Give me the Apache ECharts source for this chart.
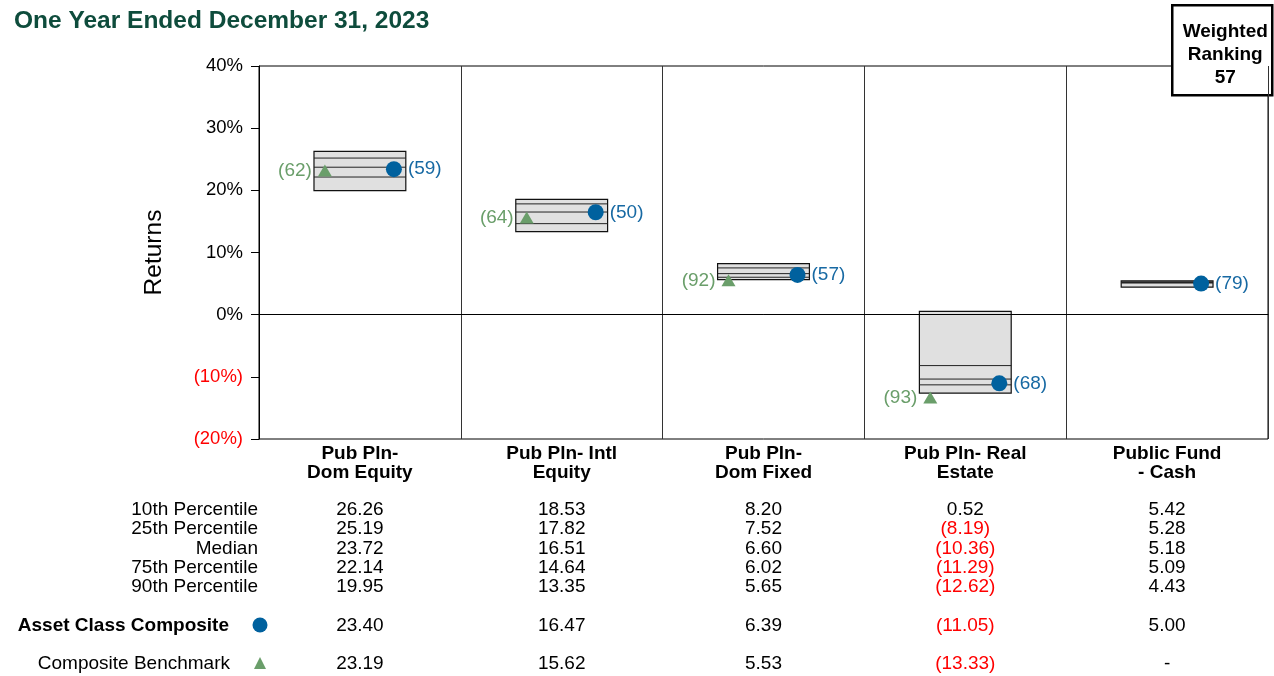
<!DOCTYPE html>
<html>
<head>
<meta charset="utf-8">
<script src="https://cdn.jsdelivr.net/npm/echarts@6/dist/echarts.min.js"></script>
<style>
  html, body { margin: 0; padding: 0; background: #fff; }
  #chart { width: 1274px; height: 676px; }
</style>
</head>
<body>
<div id="chart"></div>
<script>
const categories = ['Pub Pln-\nDom Equity', 'Pub Pln- Intl\nEquity', 'Pub Pln-\nDom Fixed', 'Pub Pln- Real\nEstate', 'Public Fund\n- Cash']
const p10 = [26.26, 18.53, 8.20, 0.52, 5.42]
const p25 = [25.19, 17.82, 7.52, -8.19, 5.28]
const median = [23.72, 16.51, 6.60, -10.36, 5.18]
const p75 = [22.14, 14.64, 6.02, -11.29, 5.09]
const p90 = [19.95, 13.35, 5.65, -12.62, 4.43]
const composite = [23.40, 16.47, 6.39, -11.05, 5.00]
const compositeRank = [59, 50, 57, 68, 79]
const benchmark = [23.19, 15.62, 5.53, -13.33, null]
const benchmarkRank = [62, 64, 92, 93, null]
const rowNames = ['10th Percentile', '25th Percentile', 'Median', '75th Percentile', '90th Percentile']

const FONT = '"Liberation Sans", Arial, sans-serif'
const FS = 19
const BLUE = '#00619e'
const BLUE_TXT = '#1769a3'
const GREEN = '#6a9e6a'
const RED = '#ff0000'

const chart = echarts.init(document.getElementById('chart'))

function fmt(v) {
  if (v === null || v === undefined) return '-'
  if (v < 0) return '{neg|(' + (-v).toFixed(2) + ')}'
  return v.toFixed(2)
}

// table rows drawn as extra x axes under the grid
const tableRows = [p10, p25, median, p75, p90, composite, benchmark]
const rowCenters = [510, 529, 549, 568, 587, 626, 664]
const rowAxes = tableRows.map((row, k) => ({
  type: 'category',
  gridIndex: 0,
  position: 'bottom',
  offset: rowCenters[k] - 439 - 9.5,
  data: categories.map((c, i) => String(i)),
  axisLine: { show: false },
  axisTick: { show: false },
  splitLine: { show: false },
  axisLabel: {
    interval: 0,
    margin: 0,
    fontFamily: FONT,
    fontSize: FS,
    lineHeight: 19,
    color: '#000',
    formatter: (value, idx) => fmt(row[idx]),
    rich: { neg: { color: RED, fontFamily: FONT, fontSize: FS, lineHeight: 19 } }
  }
}))

const boxData = categories.map((c, i) => [i, p10[i], p25[i], median[i], p75[i], p90[i]])
const compData = composite.map((v, i) => [i, v, compositeRank[i]])
const benchData = []
benchmark.forEach((v, i) => { if (v !== null) benchData.push([i, v, benchmarkRank[i]]) })

function renderBox(params, api) {
  const i = api.value(0)
  const w = api.size([1, 0])[0] * 0.455
  const cx = api.coord([i, 0])[0]
  const x0 = cx - w / 2
  const yTop = api.coord([i, api.value(1)])[1]
  const yBot = api.coord([i, api.value(5)])[1]
  const line = (v) => {
    const y = api.coord([i, v])[1]
    return { type: 'line', shape: { x1: x0, y1: y, x2: x0 + w, y2: y }, style: { stroke: '#222', lineWidth: 1 } }
  }
  return {
    type: 'group',
    children: [
      { type: 'rect', shape: { x: x0, y: yTop, width: w, height: yBot - yTop }, style: { fill: '#e0e0e0', stroke: '#111', lineWidth: 1.2 } },
      line(api.value(2)),
      line(api.value(3)),
      line(api.value(4))
    ]
  }
}

const option = {
  animation: false,
  backgroundColor: '#fff',
  title: {
    text: 'One Year Ended December 31, 2023',
    left: 9,
    top: 4,
    textStyle: { fontFamily: FONT, fontSize: 24.5, fontWeight: 'bold', color: '#0e4c3c' }
  },
  grid: {
    left: 259,
    right: 6,
    top: 66,
    bottom: 237,
    show: true,
    borderColor: '#000',
    borderWidth: 1,
    backgroundColor: 'transparent'
  },
  xAxis: [
    {
      type: 'category',
      data: categories,
      boundaryGap: true,
      axisLine: { show: true, lineStyle: { color: '#000' } },
      axisTick: { show: false },
      splitLine: { show: true, interval: 0, lineStyle: { color: '#333', width: 1 } },
      axisLabel: {
        interval: 0,
        margin: 5.5,
        fontFamily: FONT,
        fontSize: FS,
        fontWeight: 'bold',
        lineHeight: 19,
        color: '#000'
      }
    }
  ].concat(rowAxes),
  yAxis: {
    type: 'value',
    min: -20,
    max: 40,
    interval: 10,
    name: 'Returns',
    nameLocation: 'middle',
    nameGap: 92,
    nameTextStyle: { fontFamily: FONT, fontSize: 24.5, color: '#000' },
    axisLine: { show: true, lineStyle: { color: '#000' } },
    axisTick: { show: true, length: 8, lineStyle: { color: '#000' } },
    splitLine: { show: false },
    axisLabel: {
      margin: 16,
      fontFamily: FONT,
      fontSize: 18.5,
      color: '#000',
      formatter: (v) => v < 0 ? '{neg|(' + (-v) + '%)}' : v + '%',
      rich: { neg: { color: RED, fontFamily: FONT, fontSize: 18.5 } }
    }
  },
  series: [
    {
      type: 'custom',
      name: 'Range',
      renderItem: renderBox,
      encode: { x: 0, y: [1, 2, 3, 4, 5] },
      data: boxData,
      z: 2
    },
    {
      type: 'scatter',
      name: 'Composite Benchmark',
      data: benchData,
      symbol: 'triangle',
      symbolSize: [14, 12],
      symbolOffset: [-35, 0],
      itemStyle: { color: GREEN, opacity: 1 },
      label: {
        show: true,
        position: 'left',
        distance: 6,
        formatter: (p) => '(' + p.value[2] + ')',
        fontFamily: FONT,
        fontSize: FS,
        color: GREEN
      },
      z: 4
    },
    {
      type: 'scatter',
      name: 'Asset Class Composite',
      data: compData,
      symbol: 'circle',
      symbolSize: 16,
      symbolOffset: [34, 0],
      itemStyle: { color: BLUE, opacity: 1 },
      label: {
        show: true,
        position: 'right',
        distance: 6,
        formatter: (p) => '(' + p.value[2] + ')',
        fontFamily: FONT,
        fontSize: FS,
        color: BLUE_TXT
      },
      markLine: {
        silent: true,
        symbol: ['none', 'none'],
        label: { show: false },
        lineStyle: { color: '#000', type: 'solid', width: 1 },
        data: [{ yAxis: 0 }]
      },
      z: 5
    }
  ],
  graphic: [
    {
      type: 'group',
      left: 1171,
      top: 4,
      children: [
        { type: 'rect', shape: { x: 0, y: 0, width: 100, height: 90 }, style: { fill: '#fff', stroke: '#000', lineWidth: 2.5 } },
        { type: 'text', x: 53, y: 50, style: { text: 'Weighted\nRanking\n57', align: 'center', verticalAlign: 'middle', font: 'bold 19px ' + FONT, lineHeight: 23, fill: '#000' } }
      ],
      z: 100
    },
    ...rowNames.map((name, k) => ({
      type: 'text',
      x: 258,
      y: rowCenters[k],
      style: { text: name, align: 'right', verticalAlign: 'middle', font: FS + 'px ' + FONT, fill: '#000' }
    })),
    { type: 'text', x: 229, y: rowCenters[5], style: { text: 'Asset Class Composite', align: 'right', verticalAlign: 'middle', font: 'bold ' + FS + 'px ' + FONT, fill: '#000' } },
    { type: 'circle', shape: { cx: 260, cy: 625, r: 7.5 }, style: { fill: BLUE } },
    { type: 'text', x: 230, y: rowCenters[6], style: { text: 'Composite Benchmark', align: 'right', verticalAlign: 'middle', font: FS + 'px ' + FONT, fill: '#000' } },
    { type: 'polygon', shape: { points: [[260, 657], [266, 669], [254, 669]] }, style: { fill: GREEN } }
  ]
}

chart.setOption(option)
</script>
</body>
</html>
